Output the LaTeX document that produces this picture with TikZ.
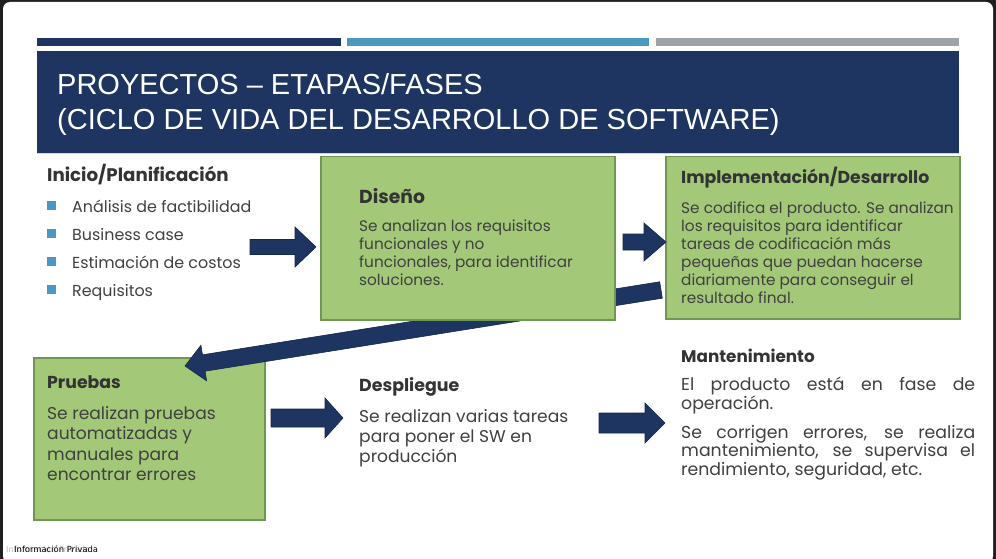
\documentclass[tikz,border=0pt]{standalone}
\usepackage{fontspec}
\setmainfont{Poppins}
\newfontfamily\titlefont{Liberation Sans}
\newfontfamily\footfont{DejaVu Sans}
\usetikzlibrary{calc}

\definecolor{navy}{HTML}{1E3561}
\definecolor{navyline}{HTML}{16284A}
\definecolor{barblue}{HTML}{4A97C2}
\definecolor{bargray}{HTML}{9EA3A8}
\definecolor{boxgreen}{HTML}{A2C878}
\definecolor{boxline}{HTML}{6F9652}
\definecolor{bodytext}{HTML}{404040}
\definecolor{framedark}{HTML}{1F1F1F}

% block arrow from #1 to #2: shaft half width #3, head half width #4, head length #5
\newcommand\blockarrow[5]{%
  \path ($(#2)!#5!(#1)$) coordinate (#2-neck);
  \draw[barrow] ($(#1)!#3!90:(#2)$) -- ($(#2-neck)!#3!90:(#2)$)
    -- ($(#2-neck)!#4!90:(#2)$) -- (#2) -- ($(#2-neck)!#4!-90:(#2)$)
    -- ($(#2-neck)!#3!-90:(#2)$) -- ($(#1)!#3!-90:(#2)$) -- cycle;}

\begin{document}
\begin{tikzpicture}[x=1pt,y=-1pt,
  phasebox/.style={draw=boxline, line width=1.5pt, fill=boxgreen, inner sep=0pt, anchor=north west},
  barrow/.style={fill=navy, draw=navyline, line width=0.6pt, line join=miter},
  txt/.style={anchor=base west, inner sep=0pt, text=bodytext, align=left},
  head/.style={txt, text=black!80, font=\bfseries\fontsize{#1}{20}\selectfont},
  head/.default=17,
  bullet/.style={fill=barblue, inner sep=0pt, minimum size=9pt},
  titletxt/.style={anchor=base west, inner sep=0pt, text=white, font=\titlefont\fontsize{29}{34}\selectfont}]
\useasboundingbox (0,0) rectangle (996,559);

% window frame
\fill[framedark] (0,0) rectangle (996,559);
\fill[white, rounded corners=7pt] (3,2) rectangle (993,563);

% header bars and title band
\fill[navy] (37,38) rectangle (341,46);
\fill[barblue] (347,38) rectangle (649,46);
\fill[bargray] (656,38) rectangle (959,46);
\node[fill=navy, anchor=north west, minimum width=922pt, minimum height=102pt, inner sep=0pt] (titlebar) at (37,51) {};
\draw[bargray!45, line width=1.5pt] (37,153.5) -- (959,153.5);
\node[titletxt] (title1) at (57,95) {PROYECTOS – ETAPAS/FASES};
\node[titletxt] (title2) at (57,130) {(CICLO DE VIDA DEL DESARROLLO DE SOFTWARE)};

% Inicio / Planificacion
\node[head=18.2] (inicio) at (47,182) {Inicio/Planificación};
\node[bullet] (b1) at (51.5,205) {};
\node[bullet] (b2) at (51.5,233) {};
\node[bullet] (b3) at (51.5,261) {};
\node[bullet] (b4) at (51.5,289) {};
\begin{scope}[every node/.style={txt, font=\fontsize{15.9}{18}\selectfont}]
\node (i1) at (72,212) {Análisis de factibilidad};
\node (i2) at (72,240) {Business case};
\node (i3) at (72,268) {Estimación de costos};
\node (i4) at (72,296) {Requisitos};
\end{scope}

% Pruebas box and the return arrow that lands on it
\node[phasebox, minimum width=231pt, minimum height=162pt] (pruebas) at (33,357) {};
\node[head=17.3] (pruebasT) at (47,388) {Pruebas};
\node[txt] (pruebasB) at (47,419) {\parbox[t]{210pt}{\raggedright\fontsize{17.1}{20.5}\selectfont
  Se realizan pruebas\\ automatizadas y\\ manuales para\\ encontrar errores}};

\coordinate (a5s) at (661,290);
\coordinate (a5e) at (185,366);
\blockarrow{a5s}{a5e}{8.3pt}{18pt}{19pt}

% Diseno
\node[phasebox, minimum width=294pt, minimum height=163pt] (diseno) at (320,156) {};
\node[head=18.8] (disenoT) at (359,203) {Diseño};
\node[txt] (disenoB) at (359,231) {\parbox[t]{250pt}{\raggedright\fontsize{15.3}{18}\selectfont
  Se analizan los requisitos\\ funcionales y no\\ funcionales, para identificar\\ soluciones.}};

% Implementacion / Desarrollo
\node[phasebox, minimum width=294pt, minimum height=162pt] (impl) at (665,156) {};
\node[head=17.3] (implT) at (681,183) {Implementación/Desarrollo};
\node[txt] (implB) at (681,213) {\parbox[t]{275pt}{\raggedright\fontsize{15.3}{18}\selectfont
  Se codifica el producto. Se analizan\\ los requisitos para identificar\\ tareas de codificación más\\
  pequeñas que puedan hacerse\\ diariamente para conseguir el\\ resultado final.}};

% Despliegue
\node[head=17.4] (despT) at (359,391) {Despliegue};
\node[txt] (despB) at (359,422) {\parbox[t]{230pt}{\raggedright\fontsize{17.1}{20}\selectfont
  Se realizan varias tareas\\ para poner el SW en\\ producción}};

% Mantenimiento
\node[head=16.8] (mantT) at (681,362) {Mantenimiento};
\node[txt] (mantB1) at (681,390) {\parbox[t]{294pt}{\fontsize{17.3}{17.5}\selectfont
  \makebox[\linewidth][s]{El producto está en fase de}\\ operación.}};
\node[txt] (mantB2) at (681,438) {\parbox[t]{294pt}{\fontsize{17.3}{17.5}\selectfont
  \makebox[\linewidth][s]{Se corrigen errores, se realiza}\\
  \makebox[\linewidth][s]{mantenimiento, se supervisa el}\\ rendimiento, seguridad, etc.}};

% flow arrows between phases
\coordinate (a1s) at (250,247);
\coordinate (a1e) at (316,247);
\blockarrow{a1s}{a1e}{7.5pt}{20pt}{21pt}
\coordinate (a2s) at (623,242);
\coordinate (a2e) at (666,242);
\blockarrow{a2s}{a2e}{8pt}{19pt}{22pt}
\coordinate (a3s) at (271,418);
\coordinate (a3e) at (343,418);
\blockarrow{a3s}{a3e}{9pt}{20pt}{18pt}
\coordinate (a4s) at (599,423);
\coordinate (a4e) at (665,423);
\blockarrow{a4s}{a4e}{10pt}{20pt}{20pt}

% footer label
\node[anchor=base west, inner sep=0pt, text=black!25, font=\footfont\fontsize{8.4}{10}\selectfont] (footghost) at (6,552) {Información Privada};
\node[anchor=base west, inner sep=0pt, text=black, font=\footfont\fontsize{8.4}{10}\selectfont] (foot) at (14,552) {Información Privada};
\end{tikzpicture}
\end{document}
